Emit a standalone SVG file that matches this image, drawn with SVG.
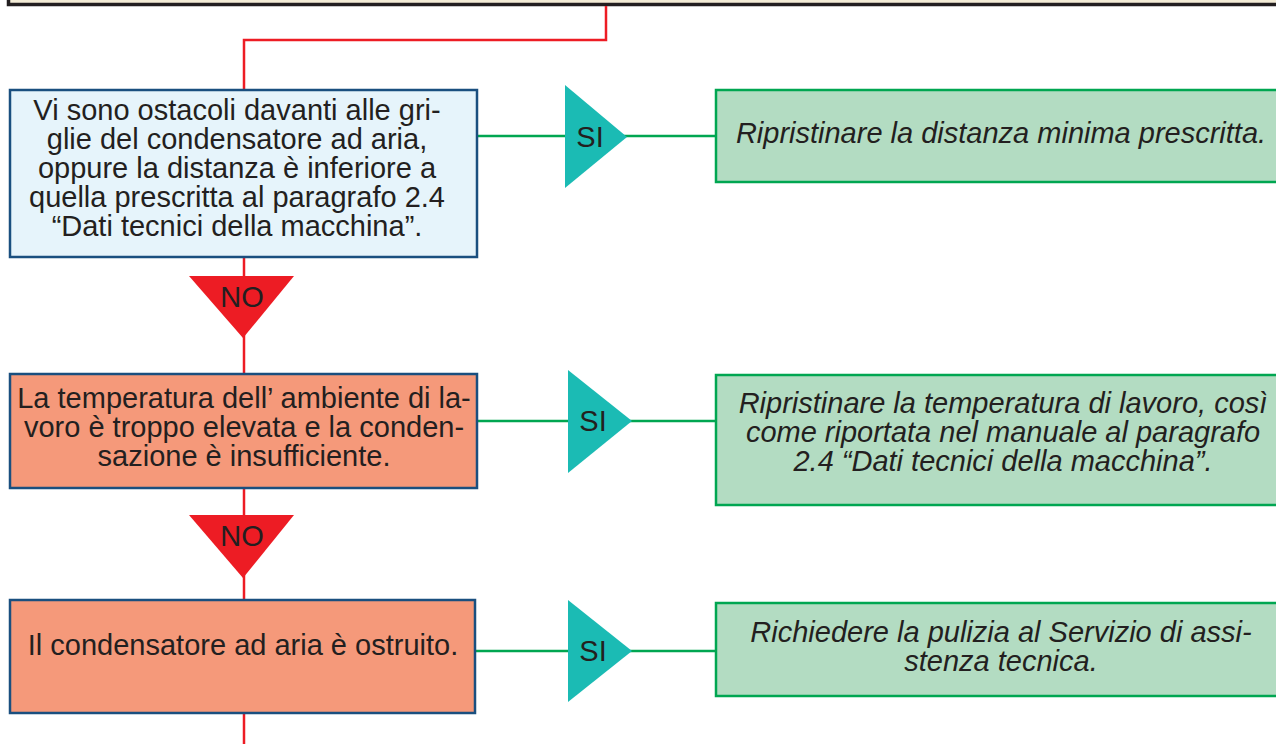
<svg xmlns="http://www.w3.org/2000/svg" width="1276" height="744" viewBox="0 0 1276 744">
<style>
.t{font-family:"Liberation Sans",Arial,sans-serif;font-size:29px;fill:#231f20;text-anchor:middle}
.i{font-family:"Liberation Sans",Arial,sans-serif;font-size:29px;font-style:italic;fill:#231f20;text-anchor:middle}
.l{font-family:"Liberation Sans",Arial,sans-serif;font-size:29px;fill:#231f20;text-anchor:middle}
.q{stroke:#1a4f7f;stroke-width:2.5}
.g{fill:#b3dcc2;stroke:#00a651;stroke-width:2.5}
.red{stroke:#ed1c24;stroke-width:2.5;fill:none}
.grn{stroke:#00a651;stroke-width:2.5;fill:none}
.no{fill:#ed1c24}
.si{fill:#1bbbb4}
</style>
<rect width="1276" height="744" fill="#ffffff"/>
<g id="top">
<rect x="8.5" y="-40" width="1300" height="44.5" fill="#f3ecd6" stroke="#231f20" stroke-width="3.5"/>
</g>
<g id="connectors">
<polyline class="red" points="606,6 606,40 244,40 244,90"/>
<line class="red" x1="244" y1="257" x2="244" y2="374"/>
<line class="red" x1="244" y1="488" x2="244" y2="600"/>
<line class="red" x1="244" y1="713" x2="244" y2="744"/>
<line class="grn" x1="477" y1="136" x2="716" y2="136"/>
<line class="grn" x1="477" y1="421" x2="716" y2="421"/>
<line class="grn" x1="475" y1="651" x2="716" y2="651"/>
</g>
<g id="q1">
<rect class="q" x="10" y="90" width="467" height="167" fill="#e6f4fb"/>
<text class="t"><tspan x="237" y="120">Vi sono ostacoli davanti alle gri-</tspan><tspan x="237" y="149">glie del condensatore ad aria,</tspan><tspan x="237" y="178">oppure la distanza è inferiore a</tspan><tspan x="237" y="207">quella prescritta al paragrafo 2.4</tspan><tspan x="237" y="236">“Dati tecnici della macchina”.</tspan></text>
</g>
<g id="no1">
<polygon class="no" points="189,276 294,276 243,338"/>
<text class="l" x="242" y="307">NO</text>
</g>
<g id="si1">
<polygon class="si" points="565,85 627,137 565,188"/>
<text class="l" x="590" y="147">SI</text>
</g>
<g id="a1">
<rect class="g" x="716" y="90" width="600" height="92"/>
<text class="i" x="1001" y="143">Ripristinare la distanza minima prescritta.</text>
</g>
<g id="q2">
<rect class="q" x="10" y="374" width="467" height="114" fill="#f5997a"/>
<text class="t"><tspan x="244" y="408">La temperatura dell’ ambiente di la-</tspan><tspan x="244" y="437">voro è troppo elevata e la conden-</tspan><tspan x="244" y="466">sazione è insufficiente.</tspan></text>
</g>
<g id="no2">
<polygon class="no" points="189,515 294,515 243,578"/>
<text class="l" x="242" y="546">NO</text>
</g>
<g id="si2">
<polygon class="si" points="568,370 632,421 568,473"/>
<text class="l" x="593" y="431">SI</text>
</g>
<g id="a2">
<rect class="g" x="716" y="375" width="600" height="130"/>
<text class="i"><tspan x="1003" y="413">Ripristinare la temperatura di lavoro, così</tspan><tspan x="1003" y="442">come riportata nel manuale al paragrafo</tspan><tspan x="1003" y="471">2.4 “Dati tecnici della macchina”.</tspan></text>
</g>
<g id="q3">
<rect class="q" x="10" y="600" width="465" height="113" fill="#f5997a"/>
<text class="t" x="243" y="655">Il condensatore ad aria è ostruito.</text>
</g>
<g id="si3">
<polygon class="si" points="568,600 632,651 568,702"/>
<text class="l" x="593" y="661">SI</text>
</g>
<g id="a3">
<rect class="g" x="716" y="603" width="600" height="93"/>
<text class="i"><tspan x="1001" y="642">Richiedere la pulizia al Servizio di assi-</tspan><tspan x="1001" y="671">stenza tecnica.</tspan></text>
</g>
</svg>
